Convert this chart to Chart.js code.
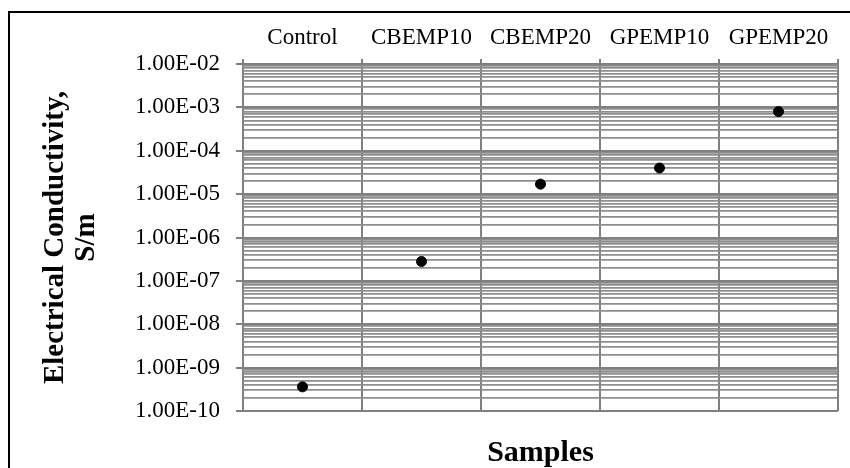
<!DOCTYPE html>
<html>
<head>
<meta charset="utf-8">
<script src="https://cdn.jsdelivr.net/npm/chart.js@4/dist/chart.umd.min.js"></script>
<style>
  html, body { margin: 0; padding: 0; background: #fff; }
  #wrap { position: relative; width: 850px; height: 468px; overflow: hidden; }
  #frame {
    position: absolute; left: 8px; top: 11px; width: 900px; height: 500px;
    border-left: 2px solid #000; border-top: 2px solid #000; pointer-events: none;
  }
</style>
</head>
<body>
<div id="wrap">
  <canvas id="chart" width="850" height="468"></canvas>
  <div id="frame"></div>
</div>
<script>
// amostras e condutividade (S/m)
const samples = ['Control', 'CBEMP10', 'CBEMP20', 'GPEMP10', 'GPEMP20'];
const conductivity = [3.6e-10, 2.8e-7, 1.7e-5, 4.0e-5, 8.0e-4];

// eixo y: décadas e rótulos
const decades = [-10, -9, -8, -7, -6, -5, -4, -3, -2];
const yTickLabels = ['1.00E-10', '1.00E-09', '1.00E-08', '1.00E-07', '1.00E-06',
  '1.00E-05', '1.00E-04', '1.00E-03', '1.00E-02'];
const minorSteps = [2, 3, 4, 5, 6, 7, 8, 9];

const SERIF = "'Liberation Serif', 'Times New Roman', serif";
const GRID_MAJOR = '#808080';
const GRID_MINOR = '#8e8e8e';

function isMajor(v) {
  const l = Math.log10(v);
  return Math.abs(l - Math.round(l)) < 1e-9;
}

function buildLogTicks() {
  const out = [];
  decades.forEach((e, i) => {
    out.push({ value: Math.pow(10, e) });
    if (i < decades.length - 1) {
      minorSteps.forEach((m) => out.push({ value: m * Math.pow(10, e) }));
    }
  });
  return out;
}

new Chart(document.getElementById('chart'), {
  type: 'line',
  data: {
    labels: samples,
    datasets: [{
      data: conductivity,
      showLine: false,
      pointRadius: 5,
      pointHoverRadius: 5,
      pointBackgroundColor: '#000',
      pointBorderColor: '#000',
      pointBorderWidth: 1,
      xAxisID: 'x',
      yAxisID: 'y',
    }],
  },
  options: {
    responsive: false,
    animation: false,
    layout: { padding: { top: 0, right: 12, bottom: 0, left: 0 } },
    plugins: { legend: { display: false }, tooltip: { enabled: false } },
    scales: {
      x: {
        type: 'category',
        position: 'top',
        offset: true,
        grid: { offset: true, color: GRID_MAJOR, lineWidth: 2, tickLength: 5 },
        border: { display: false },
        ticks: {
          color: '#000',
          font: { family: SERIF, size: 23 },
          padding: 7,
          autoSkip: false,
          maxRotation: 0,
        },
        afterFit(s) { s.height = 64; },
      },
      x2: {
        type: 'category',
        position: 'bottom',
        grid: { display: false, drawTicks: false },
        border: { display: false },
        ticks: { display: false },
        title: {
          display: true,
          text: 'Samples',
          color: '#000',
          font: { family: SERIF, size: 30, weight: 'bold', lineHeight: 1 },
          padding: { top: 0, bottom: 0 },
        },
        afterFit(s) { s.height = 57; },
      },
      y: {
        type: 'logarithmic',
        min: 1e-10,
        max: 1e-2,
        afterBuildTicks(s) { s.ticks = buildLogTicks(); },
        border: { display: false },
        grid: {
          color: (c) => (c.tick && isMajor(c.tick.value) ? GRID_MAJOR : GRID_MINOR),
          lineWidth: (c) => (c.tick && isMajor(c.tick.value) ? 2 : 1.8),
          tickColor: (c) => (c.tick && isMajor(c.tick.value) ? GRID_MAJOR : 'rgba(0,0,0,0)'),
          tickLength: 7,
        },
        ticks: {
          autoSkip: false,
          color: '#000',
          font: { family: SERIF, size: 23 },
          padding: 16,
          callback(value) {
            if (!isMajor(value)) return '';
            const idx = decades.indexOf(Math.round(Math.log10(value)));
            return idx >= 0 ? yTickLabels[idx] : '';
          },
        },
        title: {
          display: true,
          text: ['Electrical Conductivity,', 'S/m'],
          color: '#000',
          font: { family: SERIF, size: 29, weight: 'bold', lineHeight: 1.06 },
          padding: { top: 40, bottom: 0 },
        },
        afterFit(s) { s.width = 243; },
      },
    },
  },
});
</script>
</body>
</html>
